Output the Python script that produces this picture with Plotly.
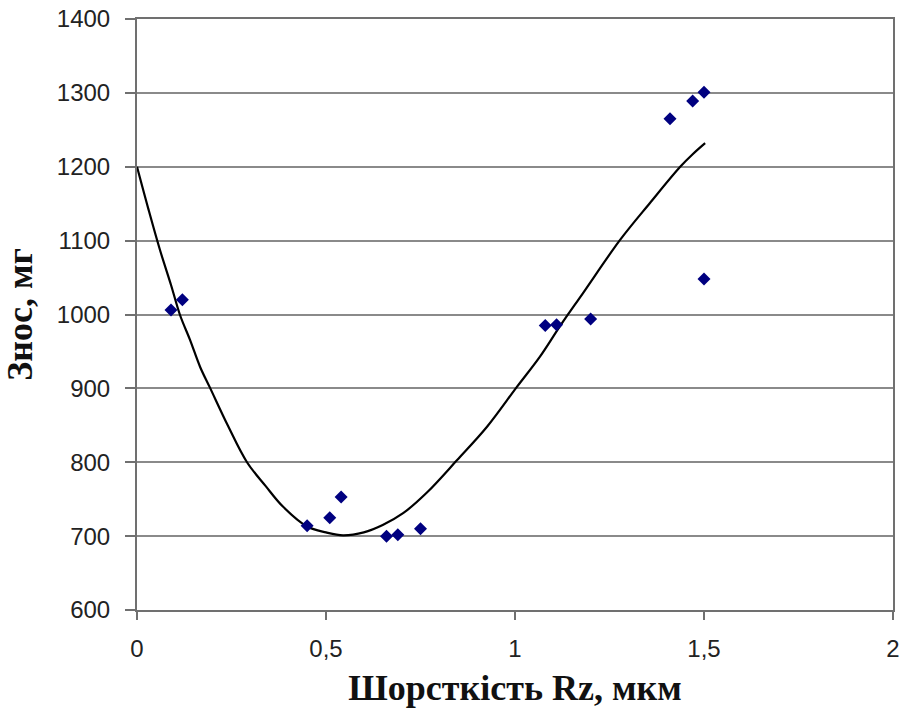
import plotly.graph_objects as go

# Measured points
rz = [0.09, 0.12, 0.45, 0.51, 0.54, 0.66, 0.69, 0.75, 1.08, 1.11, 1.20, 1.41, 1.47, 1.50, 1.50]
wear = [1006, 1020, 714, 725, 753, 700, 702, 710, 985, 986, 994, 1265, 1289, 1301, 1048]

# Trend curve
curve_x = [0, 0.03, 0.061, 0.09, 0.114, 0.14, 0.167, 0.193, 0.24, 0.291, 0.34, 0.386,
           0.45, 0.5, 0.545, 0.6, 0.65, 0.704, 0.767, 0.847, 0.926, 1.005, 1.066,
           1.12, 1.18, 1.278, 1.357, 1.437, 1.47, 1.503]
curve_y = [1200, 1143, 1087, 1040, 999, 966, 929, 901, 850, 800, 768, 740,
           713, 705, 701, 705, 715, 731, 759, 803, 848, 902, 943,
           985, 1029, 1101, 1151, 1200, 1217, 1232]

x_ticks = [0, 0.5, 1, 1.5, 2]
x_ticktext = ["0", "0,5", "1", "1,5", "2"]
y_ticks = [600, 700, 800, 900, 1000, 1100, 1200, 1300, 1400]

fig = go.Figure()
fig.add_trace(go.Scatter(x=curve_x, y=curve_y, mode="lines",
                         line=dict(color="black", width=2.2, shape="spline"),
                         showlegend=False, hoverinfo="skip"))
fig.add_trace(go.Scatter(x=rz, y=wear, mode="markers",
                         marker=dict(symbol="diamond", size=10, color="#000080"),
                         showlegend=False))

title_font = dict(family="Liberation Serif, Times New Roman, serif", size=36, color="#111")

fig.update_layout(
    width=902, height=713,
    margin=dict(l=137, r=9, t=19, b=103),
    paper_bgcolor="white", plot_bgcolor="white",
    font=dict(family="Liberation Sans, Arial, sans-serif", size=24, color="#222"),
)
fig.update_xaxes(
    range=[0, 2], tickvals=x_ticks, ticktext=x_ticktext,
    showgrid=False, zeroline=False, automargin=False,
    showline=True, linecolor="#707070", linewidth=2, mirror=True,
    ticks="outside", ticklen=8, tickcolor="#707070", tickwidth=1.5,
    ticklabelstandoff=8, ticklabeloverflow="allow",
    tickfont=dict(size=24),
    title=dict(text="<b>Шорсткість Rz, мкм</b>", font=title_font, standoff=14),
)
fig.update_yaxes(
    range=[600, 1400], tickvals=y_ticks,
    showgrid=True, gridcolor="#8a8a8a", gridwidth=1.6, zeroline=False, automargin=False,
    showline=True, linecolor="#707070", linewidth=2, mirror=True,
    ticks="outside", ticklen=10, tickcolor="#707070", tickwidth=1.5,
    ticklabelstandoff=10, ticklabeloverflow="allow",
    tickfont=dict(size=24),
    title=dict(text="<b>Знос, мг</b>", font=title_font, standoff=22),
)

fig.write_html("out.html", config={"displayModeBar": False},
               post_script="document.body.style.margin='0';document.body.style.overflow='hidden';")
